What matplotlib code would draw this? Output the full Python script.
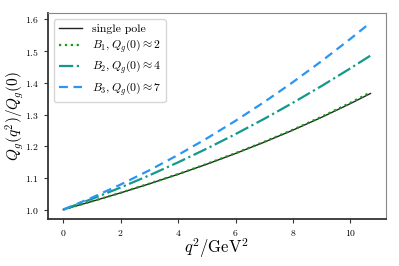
import matplotlib
matplotlib.use("Agg")
import matplotlib.pyplot as plt

plt.rcParams["font.family"] = "serif"
plt.rcParams["font.serif"] = ["cmr10", "DejaVu Serif"]
plt.rcParams["mathtext.fontset"] = "cm"
plt.rcParams["axes.formatter.use_mathtext"] = True

q2 = [0, 1, 2, 3, 4, 5, 6, 7, 8, 9, 10, 10.7]
single_pole = [1.000, 1.0257, 1.0528, 1.0813, 1.1114, 1.1433, 1.1770, 1.2128, 1.2508, 1.2913, 1.3345, 1.3664]
b1 = [1.000, 1.026, 1.053, 1.082, 1.112, 1.144, 1.178, 1.214, 1.252, 1.293, 1.337, 1.370]
b2 = [1.000, 1.0336, 1.0697, 1.1081, 1.1491, 1.1924, 1.2382, 1.2864, 1.3371, 1.3902, 1.4457, 1.4860]
b3 = [1.000, 1.0377, 1.0791, 1.1240, 1.1725, 1.2246, 1.2802, 1.3395, 1.4023, 1.4688, 1.5388, 1.5900]

fig = plt.figure(figsize=(3.99, 2.66), dpi=100)
ax = fig.add_axes([0.120, 0.177, 0.847, 0.773])

ax.plot(q2, single_pole, color="#222222", lw=1.0, label="single pole")
ax.plot(q2, b1, color="#1a9a1a", lw=1.6, ls=":", label=r"$B_1, Q_g(0) \approx 2$")
ax.plot(q2, b2, color="#13998c", lw=1.6, ls="-.", label=r"$B_2, Q_g(0) \approx 4$")
ax.plot(q2, b3, color="#2b95f5", lw=1.6, ls=(0, (4, 2.5)), label=r"$B_3, Q_g(0) \approx 7$")

ax.set_xticks([0, 2, 4, 6, 8, 10])
ax.set_yticks([1.0, 1.1, 1.2, 1.3, 1.4, 1.5, 1.6])
ax.tick_params(labelsize=7, length=3, width=0.8, color="#333333")
for s in ["left", "bottom"]:
    ax.spines[s].set_linewidth(1.3)
    ax.spines[s].set_color("#333333")
for s in ["top", "right"]:
    ax.spines[s].set_linewidth(0.8)
    ax.spines[s].set_color("#888888")

ax.set_xlabel(r"$q^2/\mathrm{GeV}^2$", fontsize=12)
ax.set_ylabel(r"$Q_g(q^2)/Q_g(0)$", fontsize=11)
ax.xaxis.set_label_coords(0.5, -0.085)
ax.yaxis.set_label_coords(-0.065, 0.5)

ax.legend(loc="upper left", fontsize=8.5, handlelength=2.0, borderpad=0.4,
          labelspacing=0.35, framealpha=0.8, edgecolor="#cccccc")

fig.savefig("out.png", dpi=100)
